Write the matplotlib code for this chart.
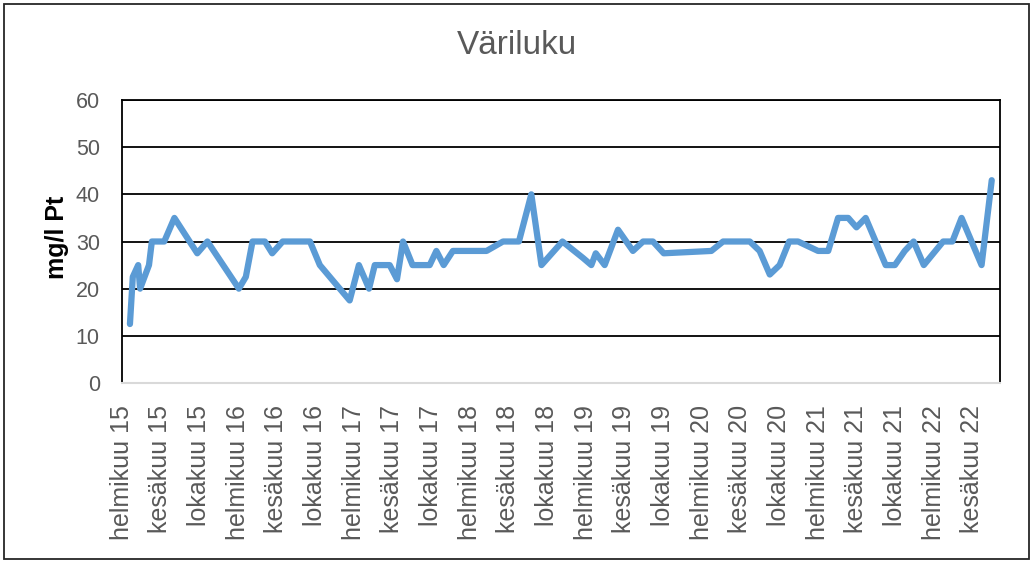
import matplotlib
matplotlib.use("Agg")
import matplotlib.pyplot as plt
from matplotlib.patches import Rectangle
import pandas as pd

# --- data ---
dates = ["2015-02-26", "2015-03-07", "2015-03-24", "2015-03-30", "2015-04-27",
         "2015-05-06", "2015-06-14", "2015-07-16", "2015-09-26", "2015-10-28",
         "2016-02-04", "2016-02-26", "2016-03-18", "2016-04-26", "2016-05-19",
         "2016-06-21", "2016-09-15", "2016-10-16", "2017-01-18", "2017-02-16",
         "2017-03-20", "2017-04-07", "2017-05-24", "2017-06-16", "2017-07-05",
         "2017-08-04", "2017-09-27", "2017-10-18", "2017-11-10", "2017-12-09",
         "2018-03-25", "2018-05-16", "2018-07-05", "2018-08-13", "2018-09-14",
         "2018-11-19", "2019-01-23", "2019-02-18", "2019-03-04", "2019-04-01",
         "2019-05-13", "2019-06-29", "2019-07-31", "2019-08-31", "2019-10-04",
         "2020-03-02", "2020-04-08", "2020-07-01", "2020-08-01", "2020-09-02",
         "2020-10-03", "2020-11-02", "2020-11-30", "2021-02-01", "2021-03-05",
         "2021-04-05", "2021-05-07", "2021-06-02", "2021-07-01", "2021-09-02",
         "2021-10-01", "2021-11-01", "2021-11-29", "2021-12-31", "2022-03-02",
         "2022-03-31", "2022-04-29", "2022-07-01", "2022-08-02"]
values = [12.5, 22.5, 25, 20, 25,
          30, 30, 35, 27.5, 30,
          20, 22.5, 30, 30, 27.5,
          30, 30, 25, 17.5, 25,
          20, 25, 25, 22, 30,
          25, 25, 28, 25, 28,
          28, 30, 30, 40, 25,
          30, 26.5, 25, 27.5, 25,
          32.5, 28, 30, 30, 27.5,
          28, 30, 30, 28, 23,
          25, 30, 30, 28, 28,
          35, 35, 33, 35, 25,
          25, 28, 30, 25, 30,
          30, 35, 25, 43]
tick_dates = ["2015-02-01", "2015-06-01", "2015-10-01", "2016-02-01", "2016-06-01",
              "2016-10-01", "2017-02-01", "2017-06-01", "2017-10-01", "2018-02-01",
              "2018-06-01", "2018-10-01", "2019-02-01", "2019-06-01", "2019-10-01",
              "2020-02-01", "2020-06-01", "2020-10-01", "2021-02-01", "2021-06-01",
              "2021-10-01", "2022-02-01", "2022-06-01"]
tick_labels = ["helmikuu 15", "kesäkuu 15", "lokakuu 15", "helmikuu 16", "kesäkuu 16",
               "lokakuu 16", "helmikuu 17", "kesäkuu 17", "lokakuu 17", "helmikuu 18",
               "kesäkuu 18", "lokakuu 18", "helmikuu 19", "kesäkuu 19", "lokakuu 19",
               "helmikuu 20", "kesäkuu 20", "lokakuu 20", "helmikuu 21", "kesäkuu 21",
               "lokakuu 21", "helmikuu 22", "kesäkuu 22"]
y_ticks = [0, 10, 20, 30, 40, 50, 60]
title = "Väriluku"
ylabel = "mg/l Pt"

x = pd.to_datetime(dates)
xt = pd.to_datetime(tick_dates)

plt.rcParams['font.family'] = ['Liberation Sans', 'DejaVu Sans']

fig = plt.figure(figsize=(10.35, 5.63), dpi=100)
ax = fig.add_axes([122/1035, 1-383/563, (1000-122)/1035, (383-100)/563])

ax.plot(x, values, color='#5B9BD5', lw=4.5, solid_joinstyle='round',
        solid_capstyle='round', zorder=3)

ax.set_ylim(0, 60)
ax.set_yticks(y_ticks)
ax.set_xlim(pd.Timestamp("2015-02-01"), pd.Timestamp("2015-02-01") + pd.Timedelta(days=2765))
ax.set_xticks(xt)
ax.set_xticklabels(tick_labels, rotation=90, ha='center', va='top')

for v in y_ticks[1:]:
    ax.axhline(v, color='black', lw=1.3, zorder=1)

ax.tick_params(axis='both', length=0, colors='#595959')
ax.tick_params(axis='x', labelsize=18, pad=16)
ax.tick_params(axis='y', labelsize=15.5, pad=16)

for s in ['top', 'left', 'right']:
    ax.spines[s].set_color('black')
    ax.spines[s].set_linewidth(1.3)
ax.spines['bottom'].set_color('#D9D9D9')
ax.spines['bottom'].set_linewidth(1.5)

ax.set_ylabel(ylabel, fontsize=18, fontweight='bold', color='black')
ax.yaxis.set_label_coords((69 - 122)/878, (383 - 237)/283)

fig.text(517/1035, 1-46/563, title, fontsize=24, color='#595959',
         ha='center', va='center')

fig.patches.append(Rectangle((4/1035, 1-559/563), 1025/1035, 555/563,
                             transform=fig.transFigure, fill=False,
                             edgecolor='#262626', lw=1.3))

fig.savefig("out.png", dpi=100)
